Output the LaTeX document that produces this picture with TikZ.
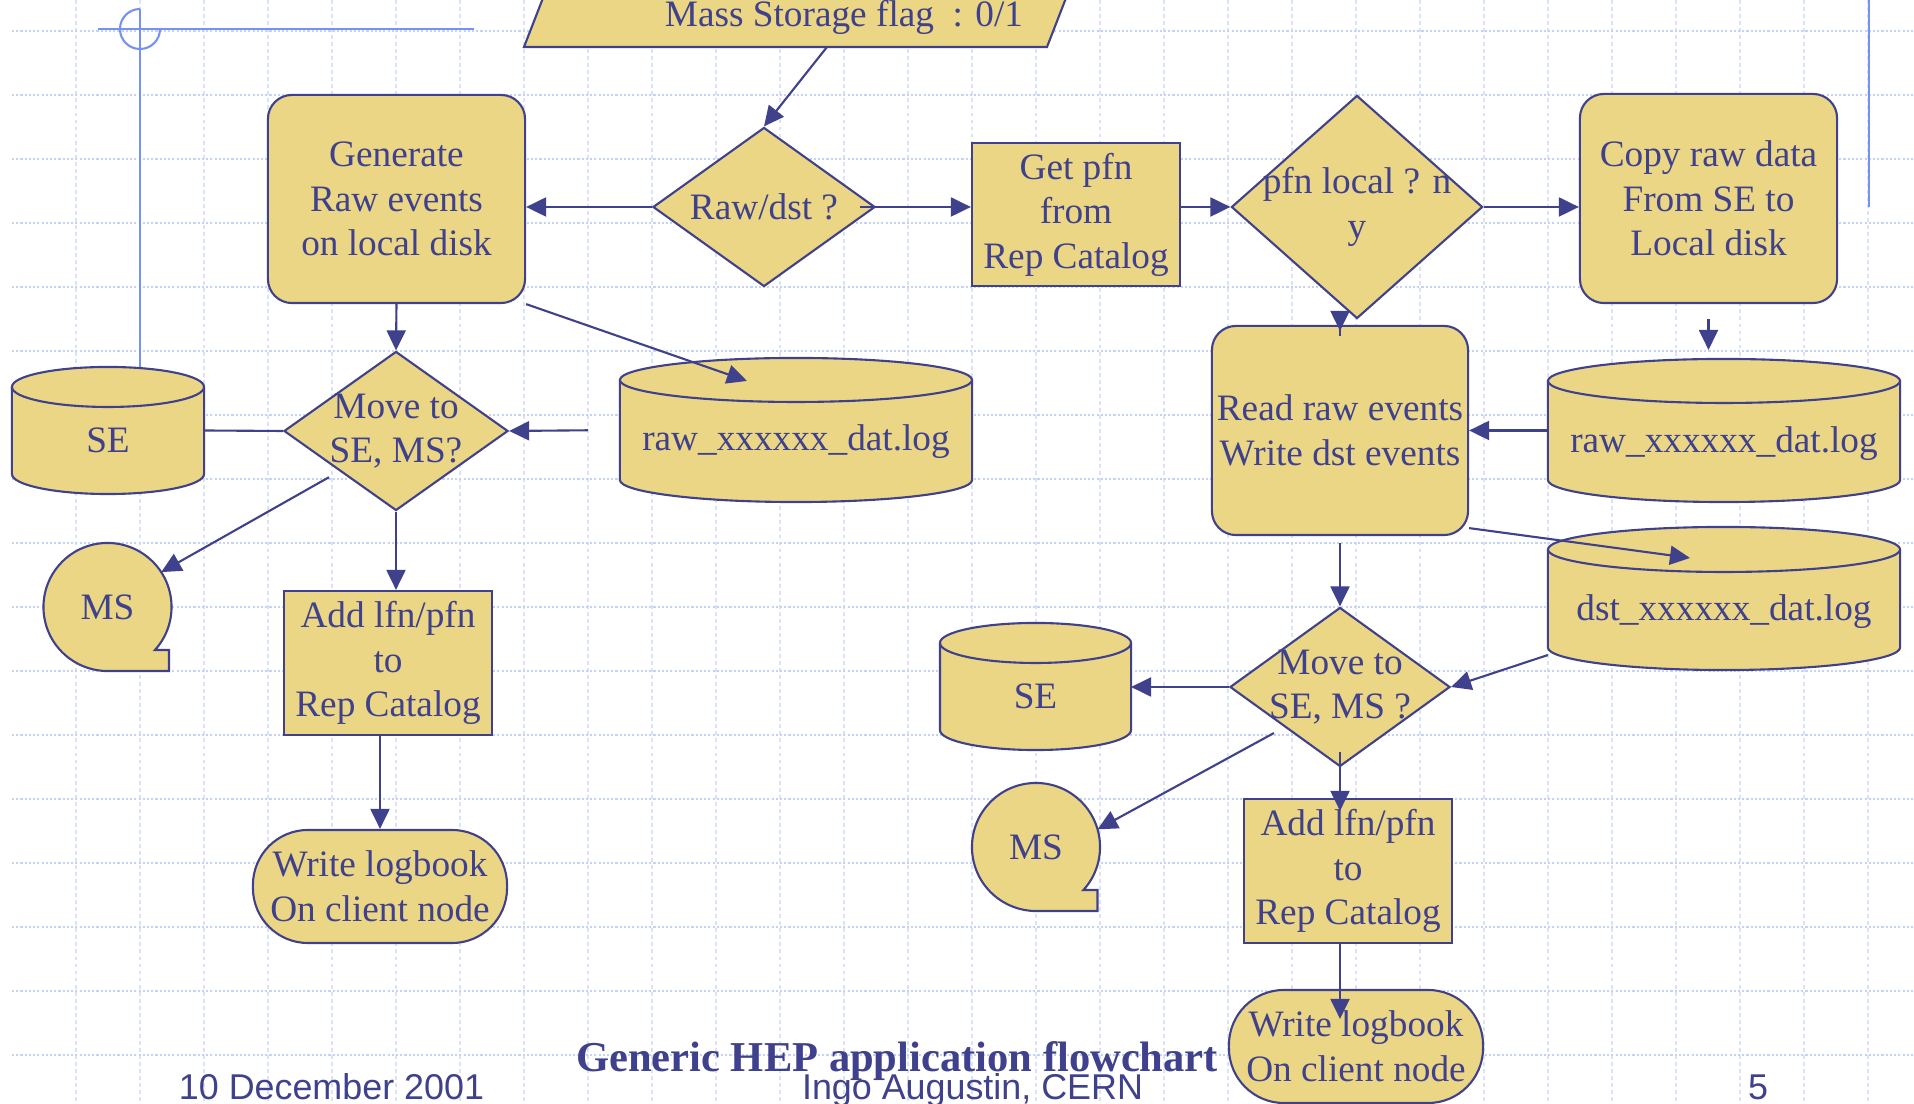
\documentclass[tikz,border=0pt]{standalone}
\usepackage{fontspec}
\setmainfont{Liberation Serif}
\setsansfont{Liberation Sans}
\usetikzlibrary{arrows.meta, shapes.geometric, backgrounds, calc}

\definecolor{ink}{HTML}{3F418D}
\definecolor{sand}{HTML}{EAD684}
\definecolor{gridh}{HTML}{C5D2F6}
\definecolor{gridv}{HTML}{D9E2FA}
\definecolor{ornam}{HTML}{7592F2}

% storage drum drawn round a node
\newcommand{\drawdrum}[3]{%
  \filldraw[flow] ([yshift=-#3]#1.north west)
    -- ([yshift=#3]#1.south west)
    arc[start angle=180, end angle=360, x radius=#2, y radius=#3]
    -- ([yshift=-#3]#1.north east)
    arc[start angle=0, end angle=180, x radius=#2, y radius=#3] -- cycle;
  \draw[flow, fill=none] ([yshift=-#3]#1.north west)
    arc[start angle=180, end angle=360, x radius=#2, y radius=#3];
}
% tape symbol drawn round a node
\newcommand{\drawtape}[1]{%
  \filldraw[flow] ([shift={(-42.2:0.64cm)}]#1.center)
    arc[start angle=-42.2, end angle=270, radius=0.64cm]
    -- ++(0.615cm,0) -- ++(0,0.21cm) -- cycle;
}

\begin{document}
\begin{tikzpicture}[x=0.01cm, y=-0.01cm,
    >={Triangle[length=0.2cm, width=0.19cm]},
    every node/.style={font=\fontsize{10.6}{12.66}\selectfont, text=ink},
    flow/.style={draw=ink, fill=sand, line width=0.6pt},
    proc/.style={flow, rectangle, minimum width=2.08cm, minimum height=1.43cm, align=center, inner sep=0pt},
    rproc/.style={flow, rectangle, rounded corners=0.24cm, minimum width=2.57cm, minimum height=2.08cm, align=center, inner sep=0pt},
    logbook/.style={flow, rectangle, rounded corners=0.55cm, minimum width=2.54cm, minimum height=1.13cm, align=center, inner sep=0pt},
    decide/.style 2 args={flow, diamond, minimum width=#1, minimum height=#2, inner sep=0pt},
    drum/.style 2 args={rectangle, minimum width=#1, minimum height=#2, inner sep=0pt, outer sep=0pt},
    tape/.style={circle, minimum size=1.28cm, inner sep=0pt, outer sep=0pt},
    inlab/.style={align=center, inner sep=0pt},
    link/.style={->, draw=ink, line width=0.6pt},
    gridlineh/.style={draw=gridh, line width=0.4pt, dash pattern=on 0.6pt off 0.6pt},
    gridlinev/.style={draw=gridv, line width=0.3pt, dash pattern=on 1.1pt off 0.9pt},
    ornament/.style={draw=ornam, line width=0.6pt},
  ]
  \useasboundingbox (0,0) rectangle (1914,1104);

  % Slide background
  \begin{scope}[on background layer]
    \clip (0,0) rectangle (1914,1104);
    \foreach \gx in {76,140,...,1868} \draw[gridlinev] (\gx,0) -- (\gx,1104);
    \foreach \gy in {31,95,...,1055} \draw[gridlineh] (12,\gy) -- (1914,\gy);
    \draw[ornament] (98,29) -- (474,29);
    \draw[ornament] (140,9) -- (140,367);
    \draw[ornament] (140,9) arc[start angle=90, end angle=360, radius=0.2cm];
    \draw[ornament] (1869,0) -- (1869,207);
    \filldraw[flow] (524,47) -- (1047,47) -- (1073,-20) -- (550,-20) -- cycle;
  \end{scope}

  % Define the nodes
  \node[anchor=base] (flag) at (844,27) {Mass Storage flag\ \ : 0/1};
  \coordinate (flagout) at (827,47);
  \node[rproc] (gen) at (396.5,199) {Generate\\Raw events\\on local disk};
  \node[decide={2.22cm}{1.59cm}, label={[inlab]center:Raw/dst ?}] (raw) at (764,207) {};
  \node[proc] (getpfn) at (1076,214.5) {Get pfn\\from\\Rep Catalog};
  \node[decide={2.51cm}{2.23cm}, label={[inlab]center:{pfn local ? n\\y}}] (pfnloc) at (1357,207) {};
  \node[rproc, minimum height=2.09cm] (copy) at (1708.5,198.5) {Copy raw data\\From SE to\\Local disk};
  \node[rproc, minimum width=2.56cm, minimum height=2.09cm] (read) at (1340,430.5) {Read raw events\\Write dst events};

  \node[drum={3.52cm}{1.44cm}, label={[inlab, yshift=-0.12cm]center:raw\_xxxxxx\_dat.log}] (rawlogL) at (796,430) {};
  \node[drum={3.52cm}{1.43cm}, label={[inlab, yshift=-0.13cm]center:raw\_xxxxxx\_dat.log}] (rawlogR) at (1724,430.5) {};
  \node[drum={3.52cm}{1.43cm}, label={[inlab, yshift=-0.13cm]center:dst\_xxxxxx\_dat.log}] (dstlog) at (1724,598.5) {};
  \node[drum={1.92cm}{1.27cm}, label={[inlab, yshift=-0.1cm]center:SE}] (se1) at (108,430.5) {};
  \node[drum={1.91cm}{1.27cm}, label={[inlab, yshift=-0.1cm]center:SE}] (se2) at (1035.5,686.5) {};

  \node[decide={2.24cm}{1.59cm}, label={[inlab]center:{Move to\\SE, MS?}}] (move1) at (396,431) {};
  \node[decide={2.2cm}{1.59cm}, label={[inlab]center:{Move to\\SE, MS ?}}] (move2) at (1340,687) {};
  \node[tape] (ms1) at (107.5,607) {MS};
  \node[tape] (ms2) at (1036,847) {MS};
  \node[proc, minimum height=1.44cm] (add1) at (388,663) {Add lfn/pfn\\to\\Rep Catalog};
  \node[proc, minimum height=1.44cm] (add2) at (1348,871) {Add lfn/pfn\\to\\Rep Catalog};
  \node[logbook] (wl1) at (380,886.5) {Write logbook\\On client node};
  \node[logbook] (wl2) at (1356,1046.5) {Write logbook\\On client node};

  \node[font=\fontsize{12.1}{14}\selectfont\bfseries, anchor=base] (title) at (897,1072) {Generic HEP application flowchart};
  \node[font=\sffamily\fontsize{10.2}{12}\selectfont, anchor=base] (date) at (331.5,1100) {10 December 2001};
  \node[font=\sffamily\fontsize{10.2}{12}\selectfont, anchor=base] (author) at (972.5,1100) {Ingo Augustin, CERN};
  \node[font=\sffamily\fontsize{10.2}{12}\selectfont, anchor=base] (page) at (1758,1100) {5};

  % Drums and tapes behind their texts
  \begin{scope}[on background layer]
    \drawdrum{rawlogL}{1.76cm}{0.22cm}
    \drawdrum{rawlogR}{1.76cm}{0.22cm}
    \drawdrum{dstlog}{1.76cm}{0.225cm}
    \drawdrum{se1}{0.96cm}{0.2cm}
    \drawdrum{se2}{0.955cm}{0.2cm}
    \drawtape{ms1}
    \drawtape{ms2}
  \end{scope}

  % Draw the edges
  \draw[link] (flagout) -- (raw.north);
  \draw[link] (raw.west) -- (raw.west -| gen.east);
  \draw[link, shorten <=-0.16cm] (raw.east) -- (raw.east -| getpfn.west);
  \draw[link] (getpfn.east |- pfnloc.west) -- (pfnloc.west);
  \draw[link] (pfnloc.east) -- (pfnloc.east -| copy.west);
  \draw[link, shorten <=-0.16cm, shorten >=-0.06cm] (pfnloc.south -| read.north) -- (read.north);
  \draw[link, shorten <=0.15cm, shorten >=0.09cm] (copy.south) -- (copy.south |- rawlogR.north);
  \draw[link] (rawlogR.west) -- (read.east);
  \draw[link] ([yshift=0.08cm]read.south east) -- ($(dstlog.north)+(-0.34cm,-0.31cm)$);
  \draw[link, shorten <=0.07cm] (read.south) -- (move2.north);
  \draw[link] ([yshift=0.15cm]dstlog.south west) -- (move2.east);
  \draw[link] (move2.west) -- (move2.west -| se2.east);
  \draw[link, shorten <=0.12cm] (move2.south west) -- (ms2.16);
  \draw[link, shorten <=-0.16cm, shorten >=-0.13cm] (move2.south) -- (move2.south |- add2.north);
  \draw[link, shorten >=-0.3cm] (move2.south |- add2.south) -- (move2.south |- wl2.north);

  \draw[link] (gen.south) -- (move1.north);
  \draw[link] (gen.south east) -- ($(rawlogL.north)+(-0.49cm,-0.23cm)$);
  \draw[link, shorten <=0.32cm] (rawlogL.west) -- (move1.east);
  \draw[link, -] (se1.east) -- (move1.west);
  \draw[link, shorten <=0.12cm] (move1.south west) -- (ms1.33);
  \draw[link] (move1.south) -- (move1.south |- add1.north);
  \draw[link] (wl1.north |- add1.south) -- (wl1.north);
\end{tikzpicture}
\end{document}
